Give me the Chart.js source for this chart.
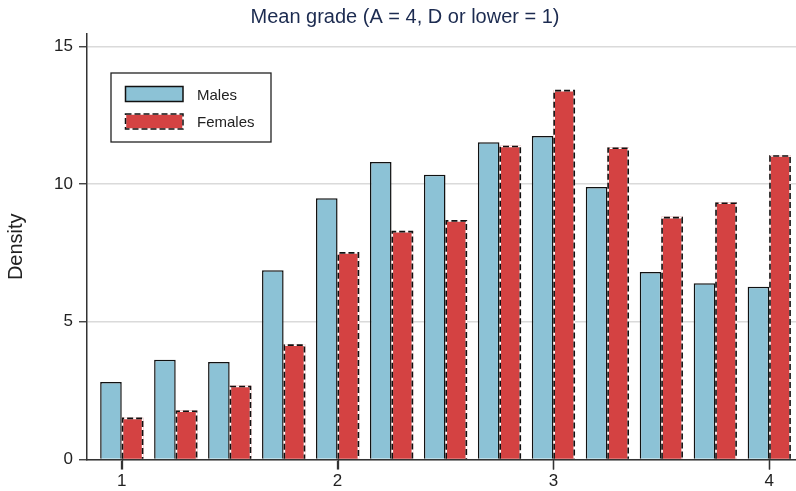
<!DOCTYPE html>
<html>
<head>
<meta charset="utf-8">
<script src="https://cdn.jsdelivr.net/npm/chart.js@4/dist/chart.umd.min.js"></script>
<style>
html,body{margin:0;padding:0;background:#fff;}
#wrap{width:796px;height:491px;position:relative;}
</style>
</head>
<body>
<div id="wrap"><canvas id="c" width="796" height="491"></canvas></div>
<script>
const binCenters = [1, 1.25, 1.5, 1.75, 2, 2.25, 2.5, 2.75, 3, 3.25, 3.5, 3.75, 4];
const males   = [2.81, 3.62, 3.54, 6.87, 9.49, 10.80, 10.34, 11.52, 11.75, 9.89, 6.81, 6.40, 6.27];
const females = [1.52, 1.78, 2.68, 4.18, 7.53, 8.30, 8.69, 11.39, 13.42, 11.33, 8.81, 9.33, 11.05];
const xTicks = [1, 2, 3, 4];
const yTicks = [0, 5, 10, 15];
const seriesNames = ['Males', 'Females'];
const titleText = 'Mean grade (A = 4, D or lower = 1)';
const yTitle = 'Density';

const FONT = "'Liberation Sans', Arial, Helvetica, sans-serif";
const maleColor = '#8cc2d6';
const femaleColor = '#d44242';
const DASH = [6, 3];

const toPoints = vals => binCenters.map((x, i) => ({ x: x, y: vals[i] }));

const dashedBars = {
  id: 'dashedBars',
  afterDatasetsDraw(chart) {
    const ctx = chart.ctx;
    const meta = chart.getDatasetMeta(1);
    ctx.save();
    meta.data.forEach(el => {
      const p = el.getProps(['x', 'y', 'base', 'width'], true);
      const l = p.x - p.width / 2 + 0.75, r = p.x + p.width / 2 - 0.75;
      ctx.beginPath();
      ctx.moveTo(l, p.base);
      ctx.lineTo(l, p.y + 0.75);
      ctx.lineTo(r, p.y + 0.75);
      ctx.lineTo(r, p.base);
      ctx.lineWidth = 1.6;
      ctx.setLineDash([]);
      ctx.strokeStyle = '#ffffff';
      ctx.stroke();
      ctx.setLineDash(DASH);
      ctx.strokeStyle = '#111111';
      ctx.stroke();
    });
    ctx.restore();
  }
};

const extras = {
  id: 'extras',
  afterDraw(chart) {
    const ctx = chart.ctx;
    const a = chart.chartArea;
    const xs = chart.scales.x;
    ctx.save();
    // x tick marks
    ctx.strokeStyle = '#333';
    ctx.lineWidth = 1.3;
    ctx.setLineDash([]);
    xTicks.forEach(v => {
      const px = Math.round(xs.getPixelForValue(v)) + 0.5;
      ctx.beginPath();
      ctx.moveTo(px, a.bottom);
      ctx.lineTo(px, a.bottom + 10);
      ctx.stroke();
    });
    // title
    ctx.fillStyle = '#1c2b50';
    ctx.font = '20px ' + FONT;
    ctx.textAlign = 'center';
    ctx.textBaseline = 'middle';
    ctx.fillText(titleText, 405, 17);
    // legend
    const bx = a.left + 24, by = a.top + 39, bw = 160, bh = 69;
    ctx.fillStyle = '#fff';
    ctx.fillRect(bx, by, bw, bh);
    ctx.lineWidth = 1.3;
    ctx.strokeStyle = '#222';
    ctx.strokeRect(bx, by, bw, bh);
    const sx = bx + 14.5, sw = 57.5, sh = 15;
    let sy = by + 13.5;
    ctx.fillStyle = maleColor;
    ctx.fillRect(sx, sy, sw, sh);
    ctx.lineWidth = 1.5;
    ctx.strokeStyle = '#111';
    ctx.strokeRect(sx, sy, sw, sh);
    sy = by + 41;
    ctx.fillStyle = femaleColor;
    ctx.fillRect(sx, sy, sw, sh);
    ctx.strokeStyle = '#fff';
    ctx.strokeRect(sx, sy, sw, sh);
    ctx.setLineDash(DASH);
    ctx.strokeStyle = '#111';
    ctx.strokeRect(sx, sy, sw, sh);
    ctx.setLineDash([]);
    ctx.fillStyle = '#222';
    ctx.font = '15px ' + FONT;
    ctx.textBaseline = 'middle';
    ctx.textAlign = 'left';
    ctx.fillText(seriesNames[0], bx + 86, by + 22.5);
    ctx.fillText(seriesNames[1], bx + 86, by + 50);
    ctx.restore();
  }
};

new Chart(document.getElementById('c'), {
  type: 'bar',
  data: {
    datasets: [
      { label: seriesNames[0], data: toPoints(males), backgroundColor: maleColor, borderColor: '#111', borderWidth: 1.5, borderSkipped: 'bottom' },
      { label: seriesNames[1], data: toPoints(females), backgroundColor: femaleColor, borderWidth: 0 }
    ]
  },
  plugins: [dashedBars, extras],
  options: {
    responsive: false,
    animation: false,
    devicePixelRatio: 1,
    categoryPercentage: 0.8,
    barPercentage: 1.0,
    layout: { padding: { left: 0, right: 0, top: 34, bottom: 0 } },
    plugins: {
      legend: { display: false },
      tooltip: { enabled: false },
      title: { display: false }
    },
    scales: {
      x: {
        type: 'linear',
        offset: false,
        min: 0.839,
        max: 4.124,
        afterBuildTicks(scale) { scale.ticks = xTicks.map(v => ({ value: v })); },
        afterFit(scale) { scale.height = 31.5; },
        ticks: { color: '#222', font: { family: FONT, size: 17 }, padding: 2, maxRotation: 0, autoSkip: false },
        grid: { offset: false, drawOnChartArea: false, drawTicks: true, tickLength: 10, tickColor: '#333', tickWidth: 1.3 },
        border: { display: true, color: '#333', width: 1.5 }
      },
      y: {
        min: 0,
        max: 15.45,
        afterBuildTicks(scale) { scale.ticks = yTicks.map(v => ({ value: v })); },
        afterFit(scale) { scale.width = 87; },
        ticks: { color: '#222', font: { family: FONT, size: 17 }, padding: 6 },
        grid: { color: '#dadada', lineWidth: 1.5, drawTicks: true, tickLength: 8, tickColor: '#333', tickWidth: 1.3 },
        border: { display: true, color: '#333', width: 1.5 },
        title: { display: true, text: yTitle, color: '#222', font: { family: FONT, size: 20 }, padding: { top: 4, bottom: 0 } }
      }
    }
  }
});
</script>
</body>
</html>
